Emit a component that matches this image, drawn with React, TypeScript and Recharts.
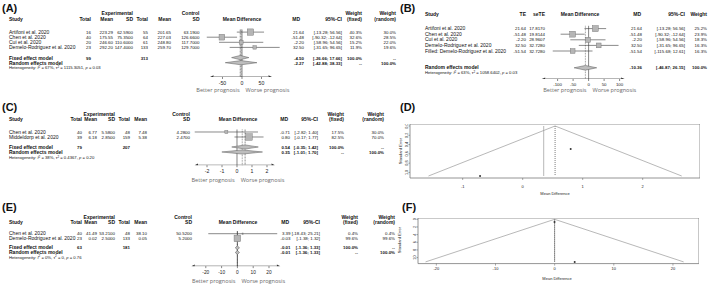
import React from 'react';
import { ScatterChart, Scatter, XAxis, YAxis, ReferenceLine, ReferenceArea } from 'recharts';

const FONT = '"Liberation Sans", Arial, sans-serif';
const LABEL_FONT = '"Open Sans", "Liberation Sans", sans-serif';
const NUM = 4.4;

// ---------- (A) forest plot, fixed + random ----------
const studiesA = ['Artifoni et al. 2020', 'Chen et al. 2020', 'Cui et al. 2020', 'Demelo-Rodriguez et al. 2020'];
const expTotalA = [16, 40, 20, 23];
const expMeanA = ['223.29', '175.55', '246.60', '292.20'];
const expSdA = ['62.5900', '75.3500', '110.6000', '147.4000'];
const ctrlTotalA = [55, 64, 61, 133];
const ctrlMeanA = ['201.65', '227.03', '248.80', '259.70'];
const ctrlSdA = ['63.1900', '126.6600', '117.7000', '129.7000'];
const mdA = [21.64, -51.48, -2.2, 32.5];
const loA = [-13.28, -90.32, -58.96, -31.65];
const hiA = [56.56, -12.64, 54.56, 96.65];
const wFixedA = [40.3, 32.6, 15.2, 11.9];
const wRandomA = [30.0, 28.5, 22.0, 19.6];
const fixedA = [-4.5, -26.66, 17.66];
const randomA = [-2.27, -42.88, 38.33];
const totalsA = [99, 313];
const hetA = ['67%', '1115.3051', '0.03'];

// ---------- (B) trim-and-fill forest ----------
const studiesB = ['Artifoni et al. 2020', 'Chen et al. 2020', 'Cui et al. 2020', 'Demelo-Rodriguez et al. 2020', 'Filled: Demelo-Rodriguez et al. 2020'];
const teB = [21.64, -51.48, -2.2, 32.5, -51.54];
const seTeB = ['17.8170', '19.8144', '28.9607', '32.7280', '32.7280'];
const loB = [-13.28, -90.32, -58.96, -31.65, -115.68];
const hiB = [56.56, -12.64, 54.56, 96.65, 12.61];
const wB = [25.2, 23.9, 18.3, 16.3, 16.3];
const randomB = [-10.36, -46.87, 26.15];
const hetB = ['63%', '1058.6402', '0.03'];

// ---------- (C) forest plot ----------
const studiesC = ['Chen et al. 2020', 'Middeldorp et al. 2020'];
const expTotalC = [40, 39];
const expMeanC = ['6.77', '6.18'];
const expSdC = ['5.5800', '2.8500'];
const ctrlTotalC = [48, 159];
const ctrlMeanC = ['7.48', '5.38'];
const ctrlSdC = ['4.2800', '2.4700'];
const mdC = [-0.71, 0.8];
const loC = [-2.82, -0.17];
const hiC = [1.4, 1.77];
const wFixedC = [17.5, 82.5];
const wRandomC = [30.0, 70.0];
const fixedC = [0.54, -0.35, 1.42];
const randomC = [0.35, -1.01, 1.7];
const totalsC = [79, 207];
const hetC = ['38%', '0.4367', '0.20'];

// ---------- (D) funnel for C ----------
const seD = [1.077, 0.495];
const funnelD = [{ x: -1.57, y: 1.077 }, { x: 0.54, y: 0 }, { x: 2.65, y: 1.077 }];

// ---------- (E) forest plot ----------
const studiesE = ['Chen et al. 2020', 'Demelo-Rodriguez et al. 2020'];
const expTotalE = [40, 23];
const expMeanE = ['41.49', '0.02'];
const expSdE = ['53.2100', '2.5000'];
const ctrlTotalE = [48, 133];
const ctrlMeanE = ['38.10', '0.05'];
const ctrlSdE = ['50.5200', '5.2000'];
const mdE = [3.39, -0.03];
const loE = [-18.43, -1.38];
const hiE = [25.21, 1.32];
const wFixedE = [0.4, 99.6];
const wRandomE = [0.4, 99.6];
const fixedE = [-0.01, -1.36, 1.33];
const randomE = [-0.01, -1.36, 1.33];
const totalsE = [63, 181];
const hetE = ['0%', '0', '0.76'];

// ---------- (F) funnel for E ----------
const seF = [11.13, 0.689];
const funnelF = [{ x: -21.83, y: 11.13 }, { x: -0.01, y: 0 }, { x: 21.81, y: 11.13 }];

const fmt2 = (v: number) => v.toFixed(2);
const pct = (v: number) => v.toFixed(1) + '%';
const ci = (lo: number, hi: number) => `[${lo.toFixed(2)}; ${hi.toFixed(2)}]`;

const T = ({ x, y, a = 'start', b = false, s = 5, c = '#111', f = FONT, children }: any) => (
  <text x={x} y={y} textAnchor={a} fontWeight={b ? 700 : 400} fontSize={s} fill={c} fontFamily={f}>
    {children}
  </text>
);

// right-aligned numeric cell
const N = ({ x, y, b = false, children }: any) => (
  <T x={x} y={y} a="end" b={b} s={NUM}>{children}</T>
);

const Het = ({ x, y, v }: any) => (
  <text x={x} y={y} fontSize={4.2} fontFamily={FONT} fill="#111">
    Heterogeneity: <tspan fontStyle="italic">I</tspan>
    <tspan dy={-1.5} fontSize={3}>2</tspan>
    <tspan dy={1.5}> = {v[0]}, τ</tspan>
    <tspan dy={-1.5} fontSize={3}>2</tspan>
    <tspan dy={1.5}> = {v[1]}, </tspan>
    <tspan fontStyle="italic">p</tspan>
    <tspan> = {v[2]}</tspan>
  </text>
);

const Prognosis = ({ zero, y }: any) => (
  <g>
    <T x={zero - 2} y={y} a="end" s={5.6} c="#6a6a6a" f={LABEL_FONT}>Better prognosis</T>
    <T x={zero + 4} y={y} s={5.6} c="#6a6a6a" f={LABEL_FONT}>Worse prognosis</T>
  </g>
);

type Col = { x: number; a?: string; v: (i: number) => any };
const tableRows = (cols: Col[], n: number, y: (i: number) => number) =>
  Array.from({ length: n }).map((_, i) => (
    <g key={i}>
      {cols.map((c, j) =>
        c.a === 'end' ? (
          <N key={j} x={c.x} y={y(i)}>{c.v(i)}</N>
        ) : (
          <T key={j} x={c.x} y={y(i)}>{c.v(i)}</T>
        )
      )}
    </g>
  ));

const none = () => <g />;

const arrowShape = (p: any) => {
  const d = p.payload.dir;
  return <polygon points={`${p.cx},${p.cy - 1.6} ${p.cx + d * 3.5},${p.cy} ${p.cx},${p.cy + 1.6}`} fill="#333" />;
};

const diamondLine = (lp: any) => (
  <polygon
    points={lp.points.map((q: any) => `${q.x},${q.y}`).join(' ')}
    fill="#bdbdbd"
    stroke="#555"
    strokeWidth={0.5}
  />
);

const ForestChart = ({ spec, md, lo, hi, w, summaries, refs }: any) => {
  const left = spec.zeroPx + spec.domain[0] * spec.ppu;
  const width = (spec.domain[1] - spec.domain[0]) * spec.ppu;
  const plotH = spec.axisRow * spec.rowPx;
  const axisH = 14;
  const maxW = Math.max(...w);
  const squares = md.map((m: number, i: number) => ({ x: m, y: i + 1, w: w[i] }));
  const axisPts = [
    { x: spec.axisExtent[0], y: spec.axisRow, dir: -1 },
    { x: spec.axisExtent[1], y: spec.axisRow, dir: 1 },
  ];
  const squareShape = (p: any) => {
    const s = Math.max(1.4, spec.maxSide * Math.sqrt(p.payload.w / maxW));
    return <rect x={p.cx - s / 2} y={p.cy - s / 2} width={s} height={s} fill="#b5b5b5" stroke="#6e6e6e" strokeWidth={0.4} />;
  };
  return (
    <div style={{ position: 'absolute', left, top: spec.top }}>
      <ScatterChart width={width} height={plotH + axisH} margin={{ top: 0, right: 0, bottom: 0, left: 0 }}>
        <XAxis
          type="number"
          dataKey="x"
          domain={spec.domain}
          allowDataOverflow
          ticks={spec.ticks}
          interval={0}
          axisLine={false}
          tickLine={{ stroke: '#333', strokeWidth: 0.6 }}
          tickSize={2}
          tickMargin={2}
          height={axisH}
          tick={{ fontSize: spec.tickFont, fill: '#222', fontFamily: FONT }}
        />
        <YAxis type="number" dataKey="y" domain={[0, spec.axisRow]} allowDataOverflow reversed hide />
        {refs.map((r: any, i: number) => (
          <ReferenceLine
            key={'r' + i}
            segment={[{ x: r.x, y: 0.5 }, { x: r.x, y: spec.axisRow }]}
            stroke={r.color || '#444'}
            strokeWidth={0.6}
            strokeDasharray={r.dash}
            ifOverflow="visible"
          />
        ))}
        {md.map((_: number, i: number) => (
          <ReferenceLine
            key={'ci' + i}
            segment={[{ x: lo[i], y: i + 1 }, { x: hi[i], y: i + 1 }]}
            stroke="#3a3a3a"
            strokeWidth={0.6}
            ifOverflow="visible"
          />
        ))}
        <Scatter data={squares} shape={squareShape} isAnimationActive={false} />
        {summaries.map((s: any, i: number) => (
          <Scatter
            key={'d' + i}
            data={[
              { x: s.v[1], y: s.row },
              { x: s.v[0], y: s.row - 0.42 },
              { x: s.v[2], y: s.row },
              { x: s.v[0], y: s.row + 0.42 },
            ]}
            shape={none}
            line={diamondLine}
            lineType="joint"
            isAnimationActive={false}
          />
        ))}
        <Scatter data={axisPts} shape={arrowShape} line={{ stroke: '#333', strokeWidth: 0.7 }} lineType="joint" isAnimationActive={false} />
      </ScatterChart>
    </div>
  );
};

const FunnelChart = ({ box, xDomain, yDomain, xTicks, yTicks, yFmt, md, se, funnel, lines, xTickMargin }: any) => {
  const yW = 9;
  const xH = 12;
  const [bl, bt, bw, bh] = box;
  const pts = md.map((m: number, i: number) => ({ x: m, y: se[i] }));
  const rotTick = (p: any) => (
    <text x={p.x} y={p.y} transform={`rotate(-90 ${p.x} ${p.y})`} textAnchor="middle" fontSize={3.8} fill="#222" fontFamily={FONT}>
      {yFmt(p.payload.value)}
    </text>
  );
  return (
    <div style={{ position: 'absolute', left: bl - yW, top: bt }}>
      <ScatterChart width={bw + yW} height={bh + xH} margin={{ top: 0, right: 0, bottom: 0, left: 0 }}>
        <XAxis
          type="number"
          dataKey="x"
          domain={xDomain}
          allowDataOverflow
          ticks={xTicks}
          interval={0}
          axisLine={false}
          tickLine={{ stroke: '#555', strokeWidth: 0.5 }}
          tickSize={2}
          tickMargin={xTickMargin}
          height={xH}
          tick={{ fontSize: 4, fill: '#222', fontFamily: FONT }}
        />
        <YAxis
          type="number"
          dataKey="y"
          domain={yDomain}
          allowDataOverflow
          reversed
          ticks={yTicks}
          interval={0}
          width={yW}
          axisLine={false}
          tickLine={{ stroke: '#555', strokeWidth: 0.5 }}
          tickSize={1.5}
          tickMargin={0.5}
          tick={rotTick}
        />
        <ReferenceArea
          x1={xDomain[0]}
          x2={xDomain[1]}
          y1={yDomain[0]}
          y2={yDomain[1]}
          fill="none"
          fillOpacity={0}
          stroke="#7a7a7a"
          strokeWidth={0.8}
          ifOverflow="visible"
        />
        {lines.map((l: any, i: number) => (
          <ReferenceLine
            key={i}
            segment={[{ x: l.x, y: 0 }, { x: l.x, y: l.y2 }]}
            stroke={l.color}
            strokeWidth={0.7}
            strokeDasharray={l.dash}
            ifOverflow="visible"
          />
        ))}
        <Scatter data={funnel} shape={none} line={{ stroke: '#9a9a9a', strokeWidth: 0.7 }} lineType="joint" isAnimationActive={false} />
        <Scatter
          data={pts}
          shape={(p: any) => <circle cx={p.cx} cy={p.cy} r={1} fill="#333" />}
          isAnimationActive={false}
        />
      </ScatterChart>
    </div>
  );
};

const specA = { zeroPx: 241.6, ppu: 0.39, domain: [-100, 110], top: 27.2, rowPx: 5.1, axisRow: 9.8, axisExtent: [-73, 68], ticks: [-50, 0, 50], maxSide: 6.4, tickFont: 5.2 };
const specB = { zeroPx: 588.5, ppu: 0.31, domain: [-160, 120], top: 22.9, rowPx: 5.6, axisRow: 10.0, axisExtent: [-140, 105], ticks: [-100, -50, 0, 50, 100], maxSide: 6, tickFont: 4.4 };
const specC = { zeroPx: 236.7, ppu: 15, domain: [-3.2, 2.8], top: 127.3, rowPx: 5, axisRow: 7.64, axisExtent: [-2.6, 2.3], ticks: [-2, -1, 0, 1, 2], maxSide: 6.6, tickFont: 5.2 };
const specE = { zeroPx: 237.4, ppu: 1.58, domain: [-30, 30], top: 228.6, rowPx: 4.7, axisRow: 7.9, axisExtent: [-27, 25], ticks: [-20, -10, 0, 10, 20], maxSide: 6.6, tickFont: 4.8 };

const rowBase = (spec: any) => (k: number) => spec.top + spec.rowPx * k + 1.7;

export default function App() {
  const yA = rowBase(specA);
  const yB = rowBase(specB);
  const yC = rowBase(specC);
  const yE = rowBase(specE);

  const colsA: Col[] = [
    { x: 9, v: (i) => studiesA[i] },
    { x: 91, a: 'end', v: (i) => expTotalA[i] },
    { x: 113, a: 'end', v: (i) => expMeanA[i] },
    { x: 133, a: 'end', v: (i) => expSdA[i] },
    { x: 148, a: 'end', v: (i) => ctrlTotalA[i] },
    { x: 171, a: 'end', v: (i) => ctrlMeanA[i] },
    { x: 199.5, a: 'end', v: (i) => ctrlSdA[i] },
    { x: 304, a: 'end', v: (i) => fmt2(mdA[i]) },
    { x: 342, a: 'end', v: (i) => ci(loA[i], hiA[i]) },
    { x: 362, a: 'end', v: (i) => pct(wFixedA[i]) },
    { x: 396, a: 'end', v: (i) => pct(wRandomA[i]) },
  ];
  const colsB: Col[] = [
    { x: 425, v: (i) => studiesB[i] },
    { x: 526, a: 'end', v: (i) => fmt2(teB[i]) },
    { x: 545, a: 'end', v: (i) => seTeB[i] },
    { x: 642, a: 'end', v: (i) => fmt2(teB[i]) },
    { x: 685, a: 'end', v: (i) => ci(loB[i], hiB[i]) },
    { x: 707, a: 'end', v: (i) => pct(wB[i]) },
  ];
  const colsC: Col[] = [
    { x: 9, v: (i) => studiesC[i] },
    { x: 82, a: 'end', v: (i) => expTotalC[i] },
    { x: 97, a: 'end', v: (i) => expMeanC[i] },
    { x: 115, a: 'end', v: (i) => expSdC[i] },
    { x: 130, a: 'end', v: (i) => ctrlTotalC[i] },
    { x: 147, a: 'end', v: (i) => ctrlMeanC[i] },
    { x: 190, a: 'end', v: (i) => ctrlSdC[i] },
    { x: 290, a: 'end', v: (i) => fmt2(mdC[i]) },
    { x: 318, a: 'end', v: (i) => ci(loC[i], hiC[i]) },
    { x: 344, a: 'end', v: (i) => pct(wFixedC[i]) },
    { x: 384, a: 'end', v: (i) => pct(wRandomC[i]) },
  ];
  const colsE: Col[] = [
    { x: 9, v: (i) => studiesE[i] },
    { x: 82, a: 'end', v: (i) => expTotalE[i] },
    { x: 97, a: 'end', v: (i) => expMeanE[i] },
    { x: 115, a: 'end', v: (i) => expSdE[i] },
    { x: 130, a: 'end', v: (i) => ctrlTotalE[i] },
    { x: 147, a: 'end', v: (i) => ctrlMeanE[i] },
    { x: 192, a: 'end', v: (i) => ctrlSdE[i] },
    { x: 290.5, a: 'end', v: (i) => fmt2(mdE[i]) },
    { x: 320, a: 'end', v: (i) => ci(loE[i], hiE[i]) },
    { x: 358, a: 'end', v: (i) => pct(wFixedE[i]) },
    { x: 395, a: 'end', v: (i) => pct(wRandomE[i]) },
  ];

  return (
    <div style={{ position: 'absolute', left: 0, top: 0, width: 709, height: 289, background: '#fff', overflow: 'hidden' }}>
      <ForestChart
        spec={specA}
        md={mdA}
        lo={loA}
        hi={hiA}
        w={wFixedA}
        summaries={[{ v: fixedA, row: 6 }, { v: randomA, row: 7 }]}
        refs={[{ x: 0, color: '#333' }, { x: fixedA[0], dash: '2 1' }, { x: randomA[0], dash: '0.8 0.8' }]}
      />
      <ForestChart
        spec={specB}
        md={teB}
        lo={loB}
        hi={hiB}
        w={wB}
        summaries={[{ v: randomB, row: 8 }]}
        refs={[{ x: 0, color: '#333' }, { x: randomB[0], dash: '0.8 0.8' }]}
      />
      <ForestChart
        spec={specC}
        md={mdC}
        lo={loC}
        hi={hiC}
        w={wFixedC}
        summaries={[{ v: fixedC, row: 4 }, { v: randomC, row: 5 }]}
        refs={[{ x: 0, color: '#333' }, { x: fixedC[0], dash: '2 1' }, { x: randomC[0], dash: '0.8 0.8' }]}
      />
      <ForestChart
        spec={specE}
        md={mdE}
        lo={loE}
        hi={hiE}
        w={wFixedE}
        summaries={[{ v: fixedE, row: 4 }, { v: randomE, row: 5 }]}
        refs={[{ x: 0, color: '#333' }, { x: fixedE[0], dash: '2 1' }, { x: randomE[0], dash: '0.8 0.8' }]}
      />
      <FunnelChart
        box={[410, 124, 290, 54]}
        xDomain={[-1.878, 2.955]}
        yDomain={[-0.043, 1.12]}
        xTicks={[-1, 0, 1, 2]}
        yTicks={[0, 0.2, 0.4, 0.6, 0.8, 1.0]}
        yFmt={(v: number) => v.toFixed(1)}
        md={mdC}
        se={seD}
        funnel={funnelD}
        lines={[{ x: randomC[0], y2: 1.077, color: '#9a9a9a' }, { x: fixedC[0], y2: 1.077, color: '#444', dash: '1 1' }]}
        xTickMargin={5}
      />
      <FunnelChart
        box={[418.3, 217.7, 281, 45.6]}
        xDomain={[-23.1, 24.4]}
        yDomain={[-0.34, 11.57]}
        xTicks={[-20, -10, 0, 10, 20]}
        yTicks={[0, 2, 4, 6, 8, 10]}
        yFmt={(v: number) => String(v)}
        md={mdE}
        se={seF}
        funnel={funnelF}
        lines={[{ x: randomE[0], y2: 11.13, color: '#9a9a9a' }, { x: fixedE[0], y2: 11.13, color: '#444', dash: '1 1' }]}
        xTickMargin={2}
      />

      <svg width={709} height={289} style={{ position: 'absolute', left: 0, top: 0, pointerEvents: 'none' }}>
        {/* (A) */}
        <T x={2} y={11.5} b s={11}>(A)</T>
        <T x={133} y={14.5} a="end" b>Experimental</T>
        <T x={199.5} y={14.5} a="end" b>Control</T>
        <T x={362} y={14.5} a="end" b>Weight</T>
        <T x={396} y={14.5} a="end" b>Weight</T>
        <T x={9} y={20.5} b>Study</T>
        <T x={91} y={20.5} a="end" b>Total</T>
        <T x={113} y={20.5} a="end" b>Mean</T>
        <T x={133} y={20.5} a="end" b>SD</T>
        <T x={148} y={20.5} a="end" b>Total</T>
        <T x={171} y={20.5} a="end" b>Mean</T>
        <T x={199.5} y={20.5} a="end" b>SD</T>
        <T x={242} y={20.5} a="middle" b>Mean Difference</T>
        <T x={300} y={20.5} a="end" b>MD</T>
        <T x={342} y={20.5} a="end" b>95%-CI</T>
        <T x={362} y={20.5} a="end" b>(fixed)</T>
        <T x={396} y={20.5} a="end" b>(random)</T>
        {tableRows(colsA, studiesA.length, (i) => yA(i + 1))}
        <T x={9} y={yA(6)} b>Fixed effect model</T>
        <N x={91} y={yA(6)} b>{totalsA[0]}</N>
        <N x={148} y={yA(6)} b>{totalsA[1]}</N>
        <N x={304} y={yA(6)} b>{fmt2(fixedA[0])}</N>
        <N x={342} y={yA(6)} b>{ci(fixedA[1], fixedA[2])}</N>
        <N x={362} y={yA(6)} b>100.0%</N>
        <N x={396} y={yA(6)} b>--</N>
        <T x={9} y={yA(7)} b>Random effects model</T>
        <N x={304} y={yA(7)} b>{fmt2(randomA[0])}</N>
        <N x={342} y={yA(7)} b>{ci(randomA[1], randomA[2])}</N>
        <N x={362} y={yA(7)} b>--</N>
        <N x={396} y={yA(7)} b>100.0%</N>
        <Het x={9} y={yA(8) - 0.3} v={hetA} />
        <Prognosis zero={specA.zeroPx} y={92} />

        {/* (B) */}
        <T x={400} y={11.5} b s={11}>(B)</T>
        <T x={425} y={16} b>Study</T>
        <T x={526} y={16} a="end" b>TE</T>
        <T x={545} y={16} a="end" b>seTE</T>
        <T x={580} y={16} a="middle" b>Mean Difference</T>
        <T x={641} y={16} a="end" b>MD</T>
        <T x={685} y={16} a="end" b>95%-CI</T>
        <T x={707} y={16} a="end" b>Weight</T>
        {tableRows(colsB, studiesB.length, (i) => yB(i + 1))}
        <T x={425} y={yB(8)} b>Random effects model</T>
        <N x={642} y={yB(8)} b>{fmt2(randomB[0])}</N>
        <N x={685} y={yB(8)} b>{ci(randomB[1], randomB[2])}</N>
        <N x={707} y={yB(8)} b>100.0%</N>
        <Het x={425} y={yB(8) + 5} v={hetB} />
        <Prognosis zero={specB.zeroPx} y={92} />

        {/* (C) */}
        <T x={2} y={111} b s={11}>(C)</T>
        <T x={115} y={115.5} a="end" b>Experimental</T>
        <T x={190} y={115.5} a="end" b>Control</T>
        <T x={344} y={115.5} a="end" b>Weight</T>
        <T x={384} y={115.5} a="end" b>Weight</T>
        <T x={9} y={121} b>Study</T>
        <T x={82} y={121} a="end" b>Total</T>
        <T x={97} y={121} a="end" b>Mean</T>
        <T x={115} y={121} a="end" b>SD</T>
        <T x={130} y={121} a="end" b>Total</T>
        <T x={147} y={121} a="end" b>Mean</T>
        <T x={190} y={121} a="end" b>SD</T>
        <T x={238} y={121} a="middle" b>Mean Difference</T>
        <T x={288} y={121} a="end" b>MD</T>
        <T x={318} y={121} a="end" b>95%-CI</T>
        <T x={344} y={121} a="end" b>(fixed)</T>
        <T x={384} y={121} a="end" b>(random)</T>
        {tableRows(colsC, studiesC.length, (i) => yC(i + 1))}
        <T x={9} y={yC(4)} b>Fixed effect model</T>
        <N x={82} y={yC(4)} b>{totalsC[0]}</N>
        <N x={130} y={yC(4)} b>{totalsC[1]}</N>
        <N x={290} y={yC(4)} b>{fmt2(fixedC[0])}</N>
        <N x={318} y={yC(4)} b>{ci(fixedC[1], fixedC[2])}</N>
        <N x={344} y={yC(4)} b>100.0%</N>
        <N x={384} y={yC(4)} b>--</N>
        <T x={9} y={yC(5)} b>Random effects model</T>
        <N x={290} y={yC(5)} b>{fmt2(randomC[0])}</N>
        <N x={318} y={yC(5)} b>{ci(randomC[1], randomC[2])}</N>
        <N x={344} y={yC(5)} b>--</N>
        <N x={384} y={yC(5)} b>100.0%</N>
        <Het x={9} y={yC(6)} v={hetC} />
        <Prognosis zero={specC.zeroPx} y={181.5} />

        {/* (D) */}
        <T x={400} y={110.5} b s={11}>(D)</T>
        <text x={402} y={151} transform="rotate(-90 402 151)" textAnchor="middle" fontSize={4} fontFamily={FONT} fill="#222">Standard Error</text>
        <T x={555} y={195} a="middle" s={4} c="#222">Mean Difference</T>

        {/* (E) */}
        <T x={2} y={210.5} b s={11}>(E)</T>
        <T x={115} y={218.5} a="end" b>Experimental</T>
        <T x={192} y={218.5} a="end" b>Control</T>
        <T x={358} y={218.5} a="end" b>Weight</T>
        <T x={395} y={218.5} a="end" b>Weight</T>
        <T x={9} y={224} b>Study</T>
        <T x={82} y={224} a="end" b>Total</T>
        <T x={97} y={224} a="end" b>Mean</T>
        <T x={115} y={224} a="end" b>SD</T>
        <T x={130} y={224} a="end" b>Total</T>
        <T x={147} y={224} a="end" b>Mean</T>
        <T x={192} y={224} a="end" b>SD</T>
        <T x={238} y={224} a="middle" b>Mean Difference</T>
        <T x={289} y={224} a="end" b>MD</T>
        <T x={320} y={224} a="end" b>95%-CI</T>
        <T x={358} y={224} a="end" b>(fixed)</T>
        <T x={395} y={224} a="end" b>(random)</T>
        {tableRows(colsE, studiesE.length, (i) => yE(i + 1))}
        <T x={9} y={yE(4)} b>Fixed effect model</T>
        <N x={82} y={yE(4)} b>{totalsE[0]}</N>
        <N x={130} y={yE(4)} b>{totalsE[1]}</N>
        <N x={290.5} y={yE(4)} b>{fmt2(fixedE[0])}</N>
        <N x={320} y={yE(4)} b>{ci(fixedE[1], fixedE[2])}</N>
        <N x={358} y={yE(4)} b>100.0%</N>
        <N x={395} y={yE(4)} b>--</N>
        <T x={9} y={yE(5)} b>Random effects model</T>
        <N x={290.5} y={yE(5)} b>{fmt2(randomE[0])}</N>
        <N x={320} y={yE(5)} b>{ci(randomE[1], randomE[2])}</N>
        <N x={358} y={yE(5)} b>--</N>
        <N x={395} y={yE(5)} b>100.0%</N>
        <Het x={9} y={yE(6)} v={hetE} />
        <Prognosis zero={specE.zeroPx} y={283} />

        {/* (F) */}
        <T x={402} y={210.5} b s={11}>(F)</T>
        <text x={400.5} y={240} transform="rotate(-90 400.5 240)" textAnchor="middle" fontSize={4} fontFamily={FONT} fill="#222">Standard Error</text>
        <T x={557} y={279.5} a="middle" s={4} c="#222">Mean Difference</T>
      </svg>
    </div>
  );
}
